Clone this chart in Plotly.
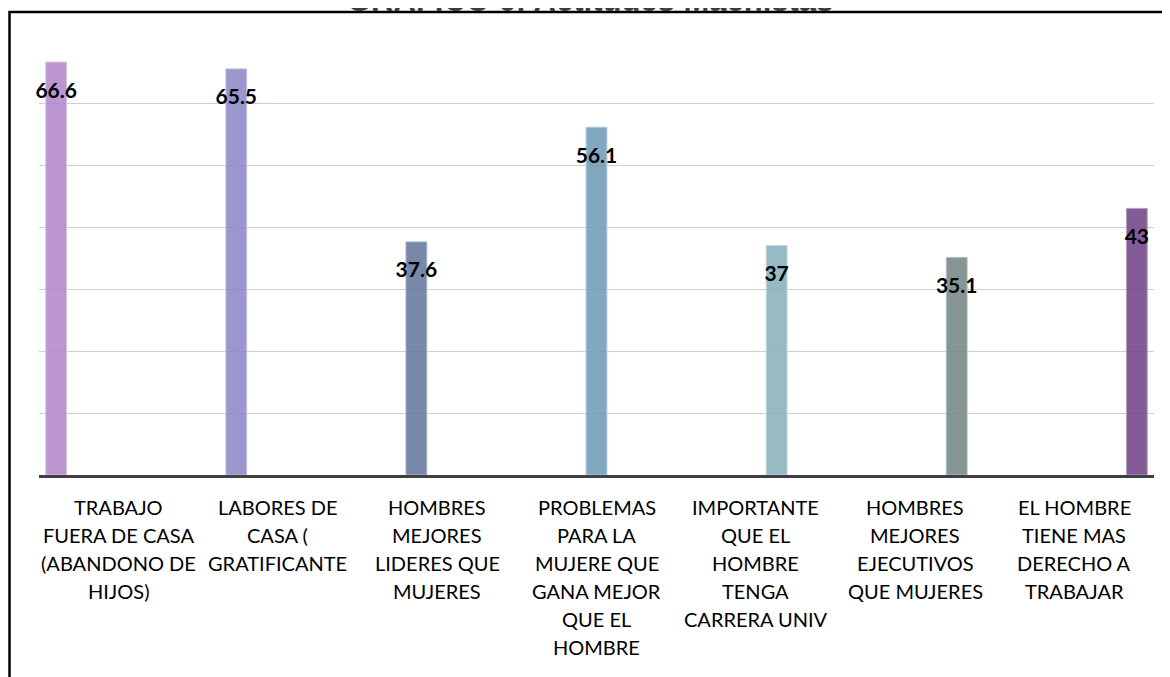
import plotly.graph_objects as go

categories = [
    "TRABAJO FUERA DE CASA (ABANDONO DE HIJOS)",
    "LABORES DE CASA ( GRATIFICANTE",
    "HOMBRES MEJORES LIDERES QUE MUJERES",
    "PROBLEMAS PARA LA MUJERE QUE GANA MEJOR QUE EL HOMBRE",
    "IMPORTANTE QUE EL HOMBRE TENGA CARRERA UNIV",
    "HOMBRES MEJORES EJECUTIVOS QUE MUJERES",
    "EL HOMBRE TIENE MAS DERECHO A TRABAJAR",
]
label_lines = [
    ["TRABAJO", "FUERA DE CASA", "(ABANDONO DE", "HIJOS)"],
    ["LABORES DE", "CASA (", "GRATIFICANTE"],
    ["HOMBRES", "MEJORES", "LIDERES QUE", "MUJERES"],
    ["PROBLEMAS", "PARA LA", "MUJERE QUE", "GANA MEJOR", "QUE EL", "HOMBRE"],
    ["IMPORTANTE", "QUE EL", "HOMBRE", "TENGA", "CARRERA UNIV"],
    ["HOMBRES", "MEJORES", "EJECUTIVOS", "QUE MUJERES"],
    ["EL HOMBRE", "TIENE MAS", "DERECHO A", "TRABAJAR"],
]
values = [66.6, 65.5, 37.6, 56.1, 37, 35.1, 43]
colors = ["rgba(178,135,201,0.88)", "rgba(140,137,200,0.88)", "rgba(100,119,157,0.88)",
          "rgba(112,156,181,0.88)", "rgba(137,177,187,0.88)", "rgba(117,135,134,0.88)",
          "rgba(114,68,136,0.88)"]
edge_colors = ["#D8C3E4", "#C3C1E5", "#A9B5CB", "#B3CCDA", "#C3D7DC", "#B5BFBE", "#B49BC2"]
title_text = "GRAFICO 6: Actitudes Machistas"

# layout geometry (figure pixels)
ML, MR, MT = 31, 24, 33
PLOT_H = 434
MB = 677 - MT - PLOT_H

fig = go.Figure()
for i, (c, v) in enumerate(zip(categories, values)):
    fig.add_trace(go.Bar(
        x=[c], y=[v], offsetgroup=f"g{i}",
        marker=dict(color=colors[i], line=dict(color=edge_colors[i], width=1)),
        hoverinfo="skip", showlegend=False,
    ))
for i, (c, v) in enumerate(zip(categories, values)):
    fig.add_trace(go.Scatter(
        x=[c], y=[v], offsetgroup=f"g{i}", mode="markers+text",
        text=[f"{v:g}"], textposition="bottom center",
        textfont=dict(family="Lato", size=21, color="black", weight="bold"),
        marker=dict(size=30, opacity=0),
        hoverinfo="skip", showlegend=False, cliponaxis=False,
    ))

annotations = []
for c, lines in zip(categories, label_lines):
    for j, line in enumerate(lines):
        annotations.append(dict(
            x=c, y=0, xref="x", yref="paper", text=line, showarrow=False,
            xanchor="center", yanchor="middle", yshift=-32 - 28 * j,
            font=dict(family="Lato", size=20, color="black"),
        ))
plot_w = 1170 - ML - MR
annotations.append(dict(
    x=(582 - ML) / plot_w, y=1 + (MT - 12) / PLOT_H, xref="paper", yref="paper",
    text=f"<b>{title_text}</b>", showarrow=False, xanchor="center", yanchor="bottom",
    font=dict(family="Liberation Sans", size=31, color="#3B3B48"),
))

fig.update_layout(
    width=1170, height=677,
    margin=dict(l=ML, r=MR, t=MT, b=MB),
    paper_bgcolor="white", plot_bgcolor="white",
    barmode="group", bargap=0.085, bargroupgap=0,
    scattermode="group", scattergap=0.085,
    annotations=annotations,
    shapes=[dict(type="rect", xref="paper", yref="paper",
                 x0=(1.5 - ML) / plot_w, x1=1.1, y0=-1.0, y1=1 + (MT - 4) / PLOT_H,
                 line=dict(color="black", width=2.5), fillcolor="rgba(0,0,0,0)")],
    xaxis=dict(type="category", categoryorder="array", categoryarray=categories,
               showticklabels=False, showgrid=False, showline=True,
               linecolor="#404040", linewidth=3, ticks=""),
    yaxis=dict(range=[0, 70], dtick=10, showticklabels=False, showgrid=True,
               gridcolor="#CFCFCF", gridwidth=1, zeroline=False, showline=False, ticks=""),
    font=dict(family="Lato"),
)

fig.write_html("out.html")
